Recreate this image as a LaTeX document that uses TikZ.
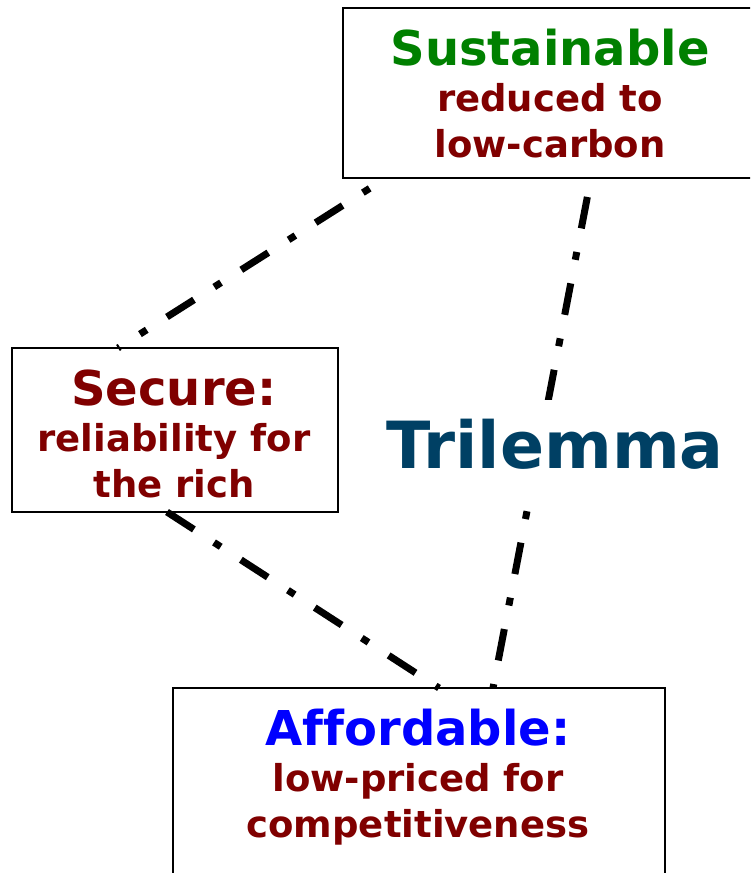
\documentclass[tikz,border=0pt]{standalone}
\usepackage{fontspec}
\setmainfont{DejaVu Sans}[Ligatures=NoCommon]
\usetikzlibrary{calc}
\definecolor{susgreen}{RGB}{0,128,0}
\definecolor{darkred}{RGB}{128,0,0}
\definecolor{affblue}{RGB}{0,0,255}
\definecolor{trinavy}{RGB}{0,64,100}
\begin{document}
\begin{tikzpicture}[x=1pt,y=-1pt,
  box/.style={draw=black, line width=2pt, inner sep=0pt, outer sep=0pt, fill=white},
  boxtext/.style={align=center, inner sep=0pt, anchor=north, font=\bfseries\fontsize{37}{46}\selectfont, text=darkred},
  link/.style={line width=7pt, line cap=butt, dash pattern=on 32pt off 24pt on 8pt off 24pt}]
\useasboundingbox (0,0) rectangle (750,873);
\clip (0,0) rectangle (750,873);
% boxes
\node[box, minimum width=414pt, minimum height=170pt] (sus) at (550,93) {};
\node[box, minimum width=326pt, minimum height=164pt] (sec) at (175,430) {};
\node[box, minimum width=492pt, minimum height=212pt] (aff) at (419,794) {};
% texts
\node[boxtext] (sustxt) at ([yshift=-17pt]sus.north)
  {{\fontsize{48}{47}\selectfont\color{susgreen}\rule{0pt}{40pt}Sustainable}\\reduced to\\low-carbon};
\node[boxtext] (sectxt) at ([xshift=-1pt,yshift=-17pt]sec.north)
  {{\fontsize{48}{47}\selectfont\rule{0pt}{40pt}Secure:}\\reliability for\\the rich};
\node[boxtext] (afftxt) at ([xshift=-1pt,yshift=-17pt]aff.north)
  {{\fontsize{48}{47}\selectfont\color{affblue}\rule{0pt}{40pt}Affordable:}\\low-priced for\\competitiveness};
% connectors
\draw[link, dash phase=30pt] ([xshift=106pt]sec.north west) -- ([xshift=43pt]sus.south west);
\draw[link, dash phase=68.7pt] ([xshift=248pt]sus.south west) -- ([xshift=320pt]aff.north west);
\draw[link] ([xshift=155pt]sec.south west) -- ([xshift=266pt]aff.north west);
% centre label
\node[fill=white, inner sep=0pt, anchor=base, text height=68pt, text depth=37pt,
      text=trinavy, font=\bfseries\fontsize{65}{65}\selectfont] (tri) at (555,468) {Trilemma};
\end{tikzpicture}
\end{document}
